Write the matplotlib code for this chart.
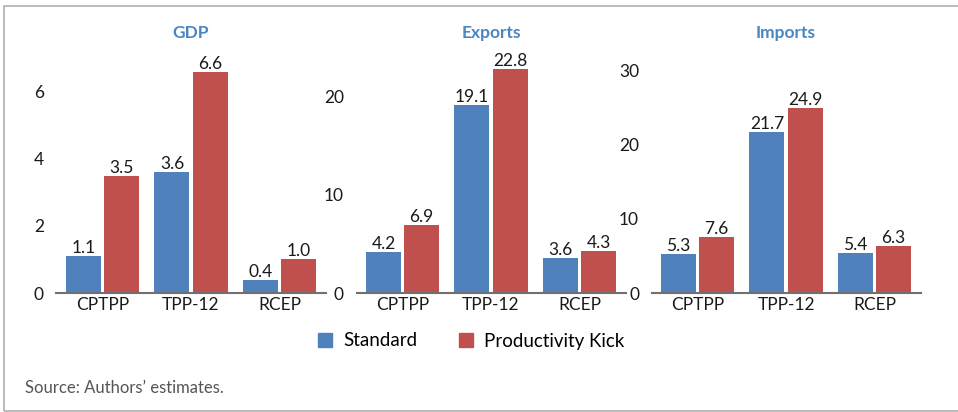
import matplotlib.pyplot as plt
import numpy as np
from matplotlib.patches import Rectangle, Patch

plt.rcParams['font.family'] = ['Lato', 'DejaVu Sans']

groups = ["CPTPP", "TPP-12", "RCEP"]
titles = ["GDP", "Exports", "Imports"]
standard = [[1.1, 3.6, 0.4], [4.2, 19.1, 3.6], [5.3, 21.7, 5.4]]
kick = [[3.5, 6.6, 1.0], [6.9, 22.8, 4.3], [7.6, 24.9, 6.3]]
yticks = [[0, 2, 4, 6], [0, 10, 20], [0, 10, 20, 30]]
ytops = [6.95, 23.7, 31.4]

blue = "#4f81bd"
red = "#c0504d"
title_col = "#4a86c0"

W, H = 958, 412
fig = plt.figure(figsize=(W / 100, H / 100), dpi=100)

# frame around the figure
fig.patches.append(Rectangle((4 / W, 1.5 / H), 1.2, (H - 7.5) / H, transform=fig.transFigure,
                             fill=False, edgecolor="#b0b0b0", linewidth=1.2))

lefts = [56.5, 356.5, 651.5]
ax_w = 269
x = np.arange(len(groups))
bw = 0.395
off = 0.215

for i in range(3):
    ax = fig.add_axes([lefts[i] / W, 1 - 293 / H, ax_w / W, 233 / H])
    b1 = ax.bar(x - off, standard[i], bw, color=blue)
    b2 = ax.bar(x + off, kick[i], bw, color=red)
    for bars, vals in ((b1, standard[i]), (b2, kick[i])):
        for r, v in zip(bars, vals):
            ax.text(r.get_x() + r.get_width() / 2, r.get_height(), f"{v:.1f}",
                    ha="center", va="bottom", fontsize=12.5, color="#1a1a1a")
    ax.set_xlim(-0.52, 2.52)
    ax.set_ylim(0, ytops[i])
    ax.set_yticks(yticks[i])
    ax.set_xticks(x)
    ax.set_xticklabels(groups)
    ax.tick_params(length=0, labelsize=12.5, colors="#1a1a1a", pad=3)
    ax.tick_params(axis="y", pad=9)
    for s in ("top", "right", "left"):
        ax.spines[s].set_visible(False)
    ax.spines["bottom"].set_color("#707070")
    ax.spines["bottom"].set_linewidth(1.5)
    ax.set_title(titles[i], fontsize=12.5, fontweight="bold", color=title_col, pad=16)

handles = [Patch(color=blue, label="Standard"), Patch(color=red, label="Productivity Kick")]
fig.legend(handles=handles, loc="center", bbox_to_anchor=(471 / W, 1 - 341 / H), ncol=2,
           frameon=False, fontsize=13.5, handlelength=0.75, handleheight=0.75,
           handletextpad=0.6, columnspacing=2.2)

fig.text(25 / W, 1 - 388 / H, "Source: Authors\u2019 estimates.", fontsize=12,
         color="#555555", va="center", ha="left")

fig.savefig("out.png", dpi=100)
